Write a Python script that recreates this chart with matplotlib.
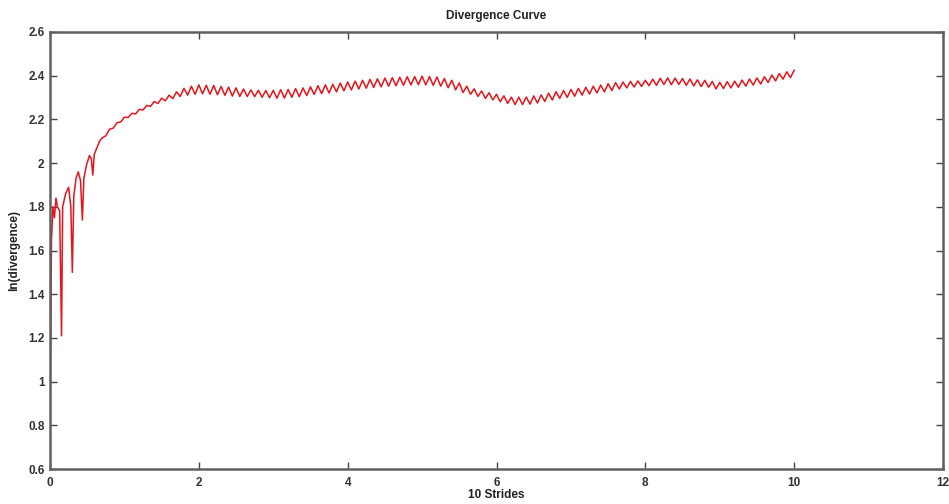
import numpy as np
import matplotlib
matplotlib.use("Agg")
import matplotlib.pyplot as plt

# Early transient part (x, y)
early_x = [0.00, 0.02, 0.04, 0.06, 0.08, 0.10, 0.13, 0.155, 0.17, 0.21, 0.25, 0.28,
           0.30, 0.32, 0.35, 0.38, 0.41, 0.435, 0.455, 0.49, 0.53, 0.555, 0.575,
           0.595, 0.63, 0.665]
early_y = [0.82, 1.65, 1.80, 1.75, 1.84, 1.80, 1.78, 1.21, 1.80, 1.86, 1.89, 1.80,
           1.50, 1.85, 1.93, 1.96, 1.92, 1.74, 1.93, 1.99, 2.035, 2.02, 1.945,
           2.04, 2.07, 2.10]

# Oscillating part: alternating peaks / troughs every 0.05 strides from 0.70 to 10.00
osc_start = 0.70
osc_step = 0.05
osc_y = [
    2.115, 2.125, 2.155, 2.160, 2.185, 2.188, 2.210, 2.209, 2.228, 2.225,
    2.246, 2.243, 2.264, 2.259, 2.282, 2.273, 2.297, 2.285, 2.311, 2.295,
    2.326, 2.305, 2.342, 2.311, 2.352, 2.315, 2.358, 2.317, 2.356, 2.315,
    2.355, 2.313, 2.351, 2.310, 2.348, 2.307, 2.344, 2.305, 2.339, 2.305,
    2.335, 2.304, 2.333, 2.301, 2.332, 2.299, 2.333, 2.297, 2.336, 2.298,
    2.337, 2.301, 2.341, 2.304, 2.344, 2.309, 2.349, 2.314, 2.354, 2.318,
    2.358, 2.321, 2.361, 2.326, 2.366, 2.331, 2.371, 2.335, 2.375, 2.339,
    2.379, 2.343, 2.383, 2.346, 2.386, 2.349, 2.389, 2.352, 2.391, 2.354,
    2.393, 2.356, 2.395, 2.358, 2.396, 2.359, 2.398, 2.358, 2.396, 2.356,
    2.394, 2.352, 2.387, 2.345, 2.379, 2.335, 2.367, 2.323, 2.352, 2.315,
    2.340, 2.305, 2.330, 2.296, 2.322, 2.289, 2.315, 2.281, 2.308, 2.273,
    2.302, 2.268, 2.302, 2.268, 2.302, 2.270, 2.307, 2.275, 2.312, 2.282,
    2.320, 2.289, 2.327, 2.296, 2.332, 2.301, 2.337, 2.306, 2.342, 2.311,
    2.347, 2.316, 2.352, 2.321, 2.357, 2.326, 2.363, 2.332, 2.368, 2.339,
    2.371, 2.344, 2.374, 2.348, 2.376, 2.351, 2.379, 2.354, 2.384, 2.356,
    2.388, 2.360, 2.390, 2.359, 2.389, 2.360, 2.387, 2.356, 2.385, 2.353,
    2.381, 2.350, 2.379, 2.347, 2.374, 2.339, 2.370, 2.341, 2.373, 2.344,
    2.375, 2.347, 2.380, 2.352, 2.385, 2.357, 2.390, 2.362, 2.395, 2.369,
    2.403, 2.376, 2.410, 2.384, 2.418, 2.391, 2.425,
]

x_ticks = [0, 2, 4, 6, 8, 10, 12]
y_ticks = [0.6, 0.8, 1.0, 1.2, 1.4, 1.6, 1.8, 2.0, 2.2, 2.4, 2.6]
y_tick_labels = ["0.6", "0.8", "1", "1.2", "1.4", "1.6", "1.8", "2", "2.2", "2.4", "2.6"]

osc_x = osc_start + osc_step * np.arange(len(osc_y))
x = np.concatenate([early_x, osc_x])
y = np.concatenate([early_y, osc_y])

plt.rcParams['font.family'] = ['Liberation Sans', 'DejaVu Sans']
fig = plt.figure(figsize=(9.49, 5.04), dpi=100)
ax = fig.add_axes([50/949, 1-469/504, 893/949, 437/504])
ax.plot(x, y, color="#e8141c", linewidth=1.1)

ax.set_xlim(0, 12)
ax.set_ylim(0.6, 2.6)
ax.set_xticks(x_ticks)
ax.set_xticklabels([str(t) for t in x_ticks], fontsize=8.5, fontweight='bold', color='#333333')
ax.set_yticks(y_ticks)
ax.set_yticklabels(y_tick_labels, fontsize=8.5, fontweight='bold', color='#333333')
ax.tick_params(direction='in', length=5, width=1, top=True, right=True, colors='#444444')
ax.tick_params(axis='x', pad=6, labelcolor='#333333')
ax.tick_params(axis='y', pad=4, labelcolor='#333333')
for s in ax.spines.values():
    s.set_linewidth(1.8)
    s.set_color('#606060')

ax.set_title("Divergence Curve", fontsize=8.5, fontweight='bold', color='#222222', pad=9)
ax.set_xlabel("10 Strides", fontsize=8.5, fontweight='bold', color='#222222', labelpad=0)
ax.set_ylabel("ln(divergence)", fontsize=8.5, fontweight='bold', color='#222222', labelpad=6)

fig.savefig("out.png", dpi=100)
